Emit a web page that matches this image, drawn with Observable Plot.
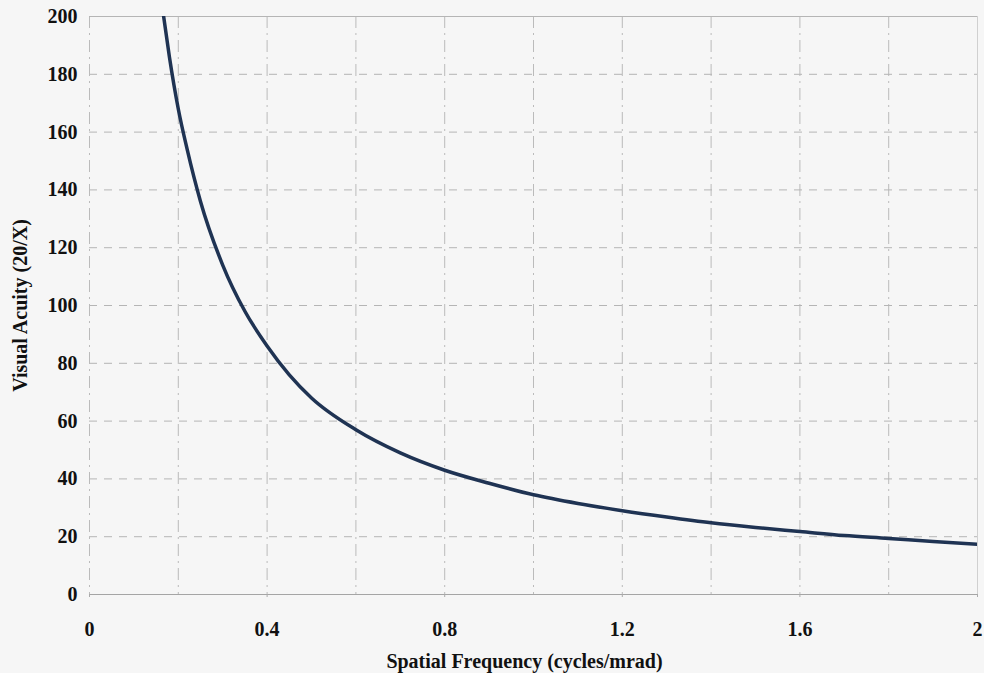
<!DOCTYPE html>
<html>
<head>
<meta charset="utf-8">
<script src="https://cdn.jsdelivr.net/npm/d3@7"></script>
<script src="https://cdn.jsdelivr.net/npm/@observablehq/plot@0.6"></script>
<style>
  html, body { margin: 0; padding: 0; background: #f6f6f6; }
  #chart { width: 984px; height: 673px; }
</style>
</head>
<body>
<div id="chart"></div>
<script>
// Spatial frequency (cycles/mrad)
const frequency = [0.167, 0.18, 0.2, 0.22, 0.25, 0.3, 0.35, 0.4, 0.45, 0.5, 0.6, 0.7, 0.8, 0.9, 1.0, 1.1, 1.2, 1.3, 1.4, 1.5, 1.6, 1.7, 1.8, 1.9, 2.0];
// Visual acuity (20/X)
const acuity = [200, 186, 168, 154, 136, 114, 98, 86, 76, 68, 57, 49, 43, 38.5, 34.5, 31.5, 29, 26.8, 24.8, 23.2, 21.8, 20.4, 19.4, 18.3, 17.4];
const xTickLabels = [0, 0.4, 0.8, 1.2, 1.6, 2];
const xGrid = [0.2, 0.4, 0.6, 0.8, 1.0, 1.2, 1.4, 1.6, 1.8];
const yTicks = [0, 20, 40, 60, 80, 100, 120, 140, 160, 180, 200];
const yGrid = [20, 40, 60, 80, 100, 120, 140, 160, 180];

const data = frequency.map((f, i) => ({f, va: acuity[i]}));
const font = '"Liberation Serif", "DejaVu Serif", serif';

const chart = Plot.plot({
  width: 984,
  height: 673,
  marginLeft: 89,
  marginRight: 7,
  marginTop: 16,
  marginBottom: 79,
  style: {background: "#f6f6f6", fontFamily: font, fontSize: "20px", fontWeight: "bold", color: "#111"},
  x: {domain: [0, 2], label: null},
  y: {domain: [0, 200], label: null},
  marks: [
    Plot.ruleX(xGrid, {stroke: "#bbb", strokeWidth: 1, strokeDasharray: "12,5,2,5"}),
    Plot.ruleY(yGrid, {stroke: "#b5b5b5", strokeWidth: 1, strokeDasharray: "8,7"}),
    Plot.ruleX([0], {stroke: "#bbb", strokeWidth: 1, strokeDasharray: "12,5,2,5"}),
    Plot.ruleX([2], {stroke: "#d0d0d0", strokeWidth: 1}),
    Plot.ruleY([200], {stroke: "#b5b5b5", strokeWidth: 1}),
    Plot.ruleY([0], {stroke: "#a5a5a5", strokeWidth: 1}),
    Plot.axisX({ticks: xTickLabels, tickSize: 3, tickPadding: 24, stroke: "#aaa", tickFormat: d => String(d), fontSize: 20, fontWeight: "bold", fill: "#111"}),
    Plot.axisY({ticks: yTicks, tickSize: 0, tickPadding: 12, tickFormat: d => String(d), fontSize: 20, fontWeight: "bold", fill: "#111",
      label: "Visual Acuity (20/X)", labelAnchor: "center", labelArrow: "none", labelOffset: 77}),
    Plot.text(["Spatial Frequency (cycles/mrad)"], {frameAnchor: "bottom", dy: 73, dx: -9, fontSize: 20, fontWeight: "bold", fill: "#111"}),
    Plot.line(data, {x: "f", y: "va", stroke: "#1f3353", strokeWidth: 3.5, curve: "monotone-x", clip: true})
  ]
});
document.getElementById("chart").appendChild(chart);
</script>
</body>
</html>
